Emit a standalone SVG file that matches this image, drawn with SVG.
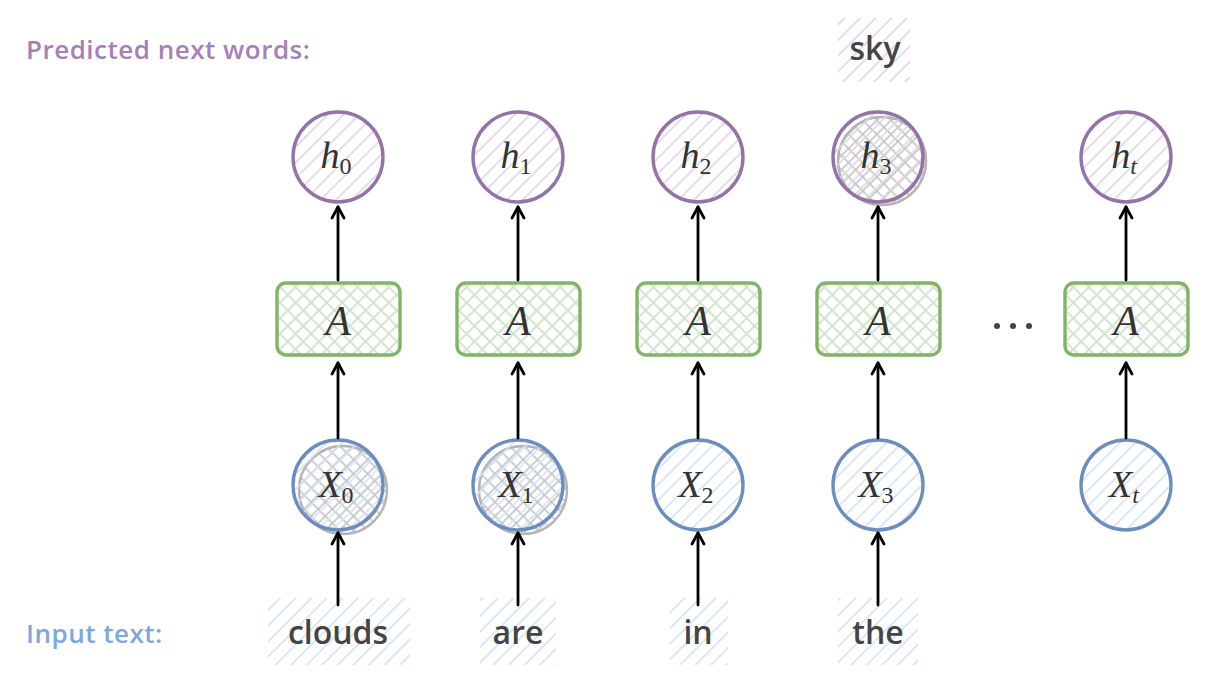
<svg xmlns="http://www.w3.org/2000/svg" width="1226" height="675" viewBox="0 0 1226 675">
<defs>
<pattern id="hP" patternUnits="userSpaceOnUse" width="11" height="11" patternTransform="rotate(45)"><line x1="5" y1="0" x2="5" y2="11" stroke="#e1d5e7" stroke-width="1.7"/></pattern>
<pattern id="hB" patternUnits="userSpaceOnUse" width="11" height="11" patternTransform="rotate(45)"><line x1="5" y1="0" x2="5" y2="11" stroke="#d4e3fa" stroke-width="1.7"/></pattern>
<pattern id="xG" patternUnits="userSpaceOnUse" width="11" height="11" patternTransform="rotate(45)"><line x1="5" y1="0" x2="5" y2="11" stroke="#cfe5cc" stroke-width="1.9"/><line x1="0" y1="5" x2="11" y2="5" stroke="#cfe5cc" stroke-width="1.9"/></pattern>
<pattern id="xS" patternUnits="userSpaceOnUse" width="10" height="10" patternTransform="rotate(45)"><line x1="5" y1="0" x2="5" y2="10" stroke="#c6c6c6" stroke-width="1.7"/><line x1="0" y1="5" x2="10" y2="5" stroke="#c6c6c6" stroke-width="1.7"/></pattern>
<marker id="arr" viewBox="0 0 20 20" refX="16" refY="10" markerWidth="20" markerHeight="20" markerUnits="userSpaceOnUse" orient="auto">
<path d="M5 4 L16 10 L5 16" fill="none" stroke="#000" stroke-width="2.8" stroke-linecap="round" stroke-linejoin="round"/>
</marker>
</defs>
<style>
.hc{fill:url(#hP);stroke:#9673a6;stroke-width:3.4}
.xc{fill:url(#hB);stroke:#6c8ebf;stroke-width:3.4}
.ab{fill:url(#xG);stroke:#82b366;stroke-width:3.4}
.sh{fill:url(#xS);stroke:#b4b4b4;stroke-width:2.4}
.m{font-family:"Liberation Serif","DejaVu Serif",serif;font-style:italic;fill:#333;text-anchor:middle}
.sub{font-style:normal}
.w{font-family:"Open Sans","Lato",sans-serif;font-weight:600;font-size:32px;fill:#444;text-anchor:middle}
.lab{font-family:"Open Sans","Lato",sans-serif;font-weight:600;font-size:26px;letter-spacing:0.5px}
.c{stroke:#000;stroke-width:2.8;fill:none;marker-end:url(#arr);stroke-linecap:round}
</style>
<rect width="1226" height="675" fill="#fff"/>
<text class="lab" x="26" y="59" fill="#a680b8">Predicted next words:</text>
<text class="lab" x="26" y="643" fill="#7ea6e0">Input text:</text>

<g id="sky"><rect x="838" y="18" width="72" height="64" fill="url(#hP)"/><text class="w" x="875" y="60">sky</text></g>

<g id="h0"><circle class="hc" cx="338" cy="157" r="45"/><text class="m" x="336" y="168" font-size="38">h<tspan class="sub" font-size="24" dy="6">0</tspan></text></g>
<g id="h1"><circle class="hc" cx="518" cy="157" r="45"/><text class="m" x="516" y="168" font-size="38">h<tspan class="sub" font-size="24" dy="6">1</tspan></text></g>
<g id="h2"><circle class="hc" cx="698" cy="157" r="45"/><text class="m" x="696" y="168" font-size="38">h<tspan class="sub" font-size="24" dy="6">2</tspan></text></g>
<g id="h3"><circle class="sh" cx="882" cy="161" r="44"/><circle class="hc" cx="878" cy="157" r="45"/><text class="m" x="876" y="168" font-size="38">h<tspan class="sub" font-size="24" dy="6">3</tspan></text></g>
<g id="ht"><circle class="hc" cx="1126" cy="157" r="45"/><text class="m" x="1124" y="168" font-size="38">h<tspan font-size="24" dy="6">t</tspan></text></g>

<g id="A0"><rect class="ab" x="277" y="283" width="123" height="72" rx="9"/><text class="m" x="338" y="335" font-size="42">A</text></g>
<g id="A1"><rect class="ab" x="457" y="283" width="123" height="72" rx="9"/><text class="m" x="518" y="335" font-size="42">A</text></g>
<g id="A2"><rect class="ab" x="637" y="283" width="123" height="72" rx="9"/><text class="m" x="698" y="335" font-size="42">A</text></g>
<g id="A3"><rect class="ab" x="817" y="283" width="123" height="72" rx="9"/><text class="m" x="878" y="335" font-size="42">A</text></g>
<g id="At"><rect class="ab" x="1065" y="283" width="123" height="72" rx="9"/><text class="m" x="1126" y="335" font-size="42">A</text></g>
<g id="dots"><circle cx="997" cy="326" r="3" fill="#444"/><circle cx="1013" cy="326" r="3" fill="#444"/><circle cx="1029" cy="326" r="3" fill="#444"/></g>

<g id="X0"><circle class="sh" cx="343" cy="490" r="44"/><circle class="xc" cx="338" cy="485" r="45"/><text class="m" x="336" y="497" font-size="38">X<tspan class="sub" font-size="24" dy="6">0</tspan></text></g>
<g id="X1"><circle class="sh" cx="523" cy="490" r="44"/><circle class="xc" cx="518" cy="485" r="45"/><text class="m" x="516" y="497" font-size="38">X<tspan class="sub" font-size="24" dy="6">1</tspan></text></g>
<g id="X2"><circle class="xc" cx="698" cy="485" r="45"/><text class="m" x="696" y="497" font-size="38">X<tspan class="sub" font-size="24" dy="6">2</tspan></text></g>
<g id="X3"><circle class="xc" cx="878" cy="485" r="45"/><text class="m" x="876" y="497" font-size="38">X<tspan class="sub" font-size="24" dy="6">3</tspan></text></g>
<g id="Xt"><circle class="xc" cx="1126" cy="485" r="45"/><text class="m" x="1124" y="497" font-size="38">X<tspan font-size="24" dy="6">t</tspan></text></g>

<g id="clouds"><rect x="268" y="598" width="142" height="67" fill="url(#hB)"/><text class="w" x="338" y="644">clouds</text></g>
<g id="are"><rect x="480" y="598" width="76" height="67" fill="url(#hB)"/><text class="w" x="518" y="644">are</text></g>
<g id="in"><rect x="670" y="598" width="58" height="67" fill="url(#hB)"/><text class="w" x="698" y="644">in</text></g>
<g id="the"><rect x="838" y="598" width="80" height="67" fill="url(#hB)"/><text class="w" x="878" y="644">the</text></g>

<g id="connectors">
<line class="c" x1="338" y1="280" x2="338" y2="207"/>
<line class="c" x1="518" y1="280" x2="518" y2="207"/>
<line class="c" x1="698" y1="280" x2="698" y2="207"/>
<line class="c" x1="878" y1="280" x2="878" y2="207"/>
<line class="c" x1="1126" y1="280" x2="1126" y2="207"/>
<line class="c" x1="338" y1="438" x2="338" y2="363"/>
<line class="c" x1="518" y1="438" x2="518" y2="363"/>
<line class="c" x1="698" y1="438" x2="698" y2="363"/>
<line class="c" x1="878" y1="438" x2="878" y2="363"/>
<line class="c" x1="1126" y1="438" x2="1126" y2="363"/>
<line class="c" x1="338" y1="605" x2="338" y2="533"/>
<line class="c" x1="518" y1="605" x2="518" y2="533"/>
<line class="c" x1="698" y1="605" x2="698" y2="533"/>
<line class="c" x1="878" y1="605" x2="878" y2="533"/>
</g>
</svg>
